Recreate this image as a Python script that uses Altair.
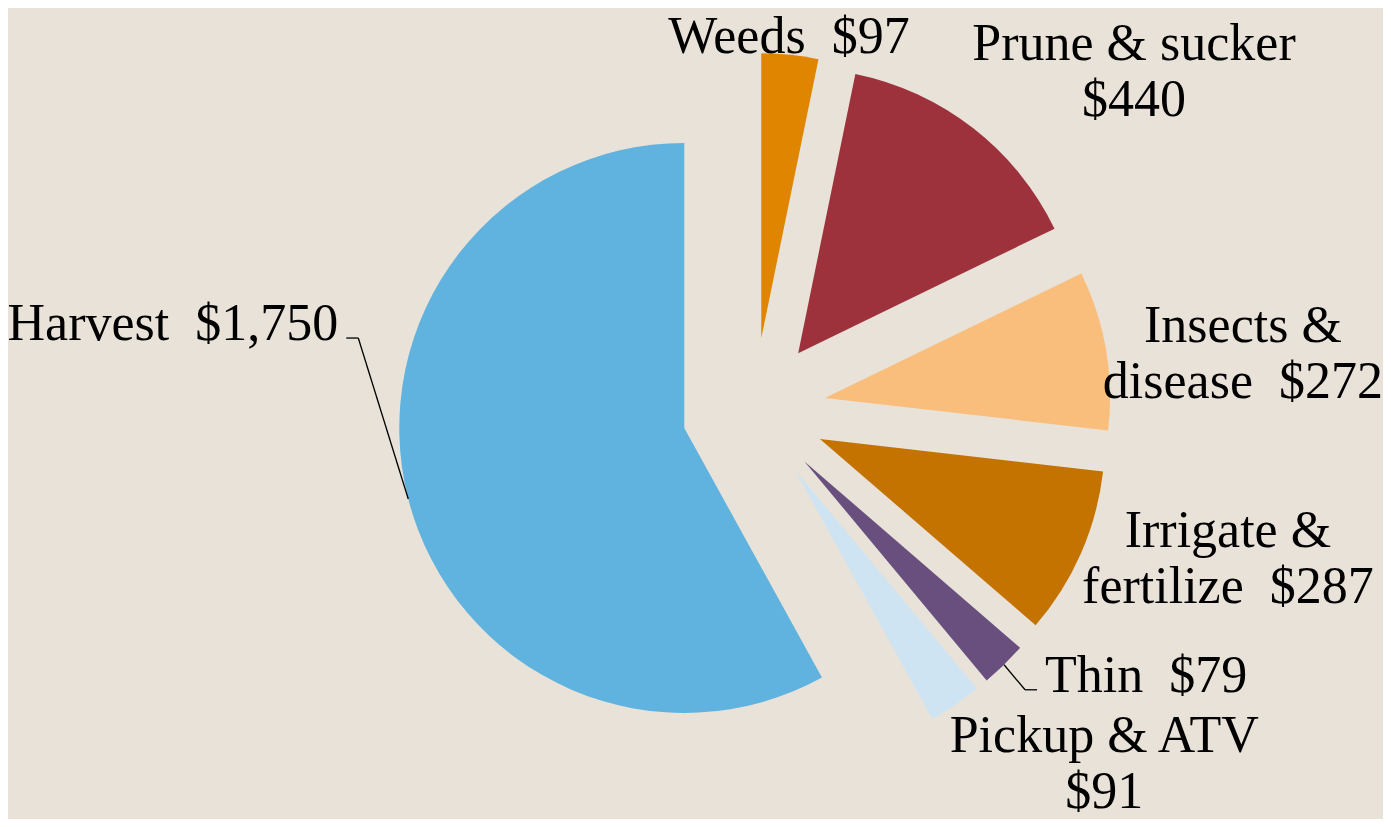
import math
import altair as alt
import pandas as pd

# ---------------- data ----------------
categories = ["Weeds", "Prune & sucker", "Insects & disease", "Irrigate & fertilize",
              "Thin", "Pickup & ATV", "Harvest"]
values = [97, 440, 272, 287, 79, 91, 1750]
label_names = ["Weeds", "Prune & sucker", "Insects &\ndisease", "Irrigate &\nfertilize",
               "Thin", "Pickup & ATV", "Harvest"]
GAP = "\u00a0\u00a0"   # two non-collapsing spaces, as in the original labels
label_seps = [GAP, "\n", GAP, GAP, GAP, "\n", GAP]

# ---------------- style / layout ----------------
colors = ["#DF8500", "#9E323C", "#F9BE7C", "#C47200", "#684F7E", "#CFE4F3", "#5FB3DE"]
label_align = ["center", "center", "center", "center", "left", "center", "right"]
label_nudge_x = [-1, 161, 137, 147, 41, 149, -70]     # manual label drag (px)
label_nudge_y = [-2, -68, -8, -6, 27, 47, -159]
leader = [False, False, False, False, True, False, True]

CX, CY = 746, 402      # pie centre inside plot area
R = 285                # pie radius
EXPLODE = 72           # explosion distance
FONT = "Liberation Serif"
FONT_SIZE = 52
LINE_HEIGHT = 56
BG = "#E8E2D8"
W, H = 1375, 811


def money(v):
    return "$" + f"{v:,}"


labels = [n + s + money(v) for n, s, v in zip(label_names, label_seps, values)]

df = pd.DataFrame({
    "idx": list(range(len(categories))),
    "category": categories,
    "value": values,
    "label": labels,
    "align": label_align,
    "nx": label_nudge_x,
    "ny": label_nudge_y,
    "leader": leader,
})

base = (
    alt.Chart(df)
    .transform_joinaggregate(total="sum(value)")
    .transform_window(cum="sum(value)", sort=[alt.SortField("idx")], frame=[None, 0])
    .transform_calculate(f0="(datum.cum - datum.value) / datum.total")
    .transform_calculate(f1="datum.cum / datum.total")
    .transform_calculate(mid="PI * (datum.f0 + datum.f1)")
    .transform_calculate(cx=f"{CX} + {EXPLODE} * sin(datum.mid)")
    .transform_calculate(cy=f"{CY} - {EXPLODE} * cos(datum.mid)")
    .transform_calculate(ox=f"{CX} + {EXPLODE + R} * sin(datum.mid)")
    .transform_calculate(oy=f"{CY} - {EXPLODE + R} * cos(datum.mid)")
    .transform_calculate(lx="datum.ox + datum.nx")
    .transform_calculate(ly="datum.oy + datum.ny")
    .transform_calculate(sgn="datum.align === 'right' ? 1 : -1")
    .transform_calculate(ex="datum.lx + 8 * datum.sgn")
    .transform_calculate(bx="datum.lx + 20 * datum.sgn")
    .transform_calculate(ey="datum.ly - 2")
)

pie = base.mark_arc(radius=R).encode(
    theta=alt.Theta("f0:Q", scale=alt.Scale(domain=[0, 1], range=[0, 2 * math.pi]), stack=None),
    theta2="f1:Q",
    x=alt.X("cx:Q", scale=None, axis=None),
    y=alt.Y("cy:Q", scale=None, axis=None),
    color=alt.Color("category:N", scale=alt.Scale(domain=categories, range=colors), legend=None),
)

lead = base.transform_filter("datum.leader")
seg1 = lead.mark_rule(color="#000000", strokeWidth=1.3).encode(
    x=alt.X("ox:Q", scale=None, axis=None),
    y=alt.Y("oy:Q", scale=None, axis=None),
    x2="bx:Q",
    y2="ey:Q",
)
seg2 = lead.mark_rule(color="#000000", strokeWidth=1.3).encode(
    x=alt.X("bx:Q", scale=None, axis=None),
    y=alt.Y("ey:Q", scale=None, axis=None),
    x2="ex:Q",
    y2="ey:Q",
)


def text_layer(al):
    return base.transform_filter(f"datum.align === '{al}'").mark_text(
        align=al, baseline="alphabetic", lineBreak="\n", font=FONT,
        fontSize=FONT_SIZE, lineHeight=LINE_HEIGHT, color="#000000",
    ).encode(
        x=alt.X("lx:Q", scale=None, axis=None),
        y=alt.Y("ly:Q", scale=None, axis=None),
        text="label:N",
    )


chart = alt.layer(
    pie, seg1, seg2, text_layer("center"), text_layer("left"), text_layer("right")
).properties(
    width=W, height=H, padding=0, background=BG,
    autosize=alt.AutoSizeParams(type="none"),
).configure_view(stroke=None)

chart.save("out.html", embed_options={"renderer": "svg", "actions": False})
